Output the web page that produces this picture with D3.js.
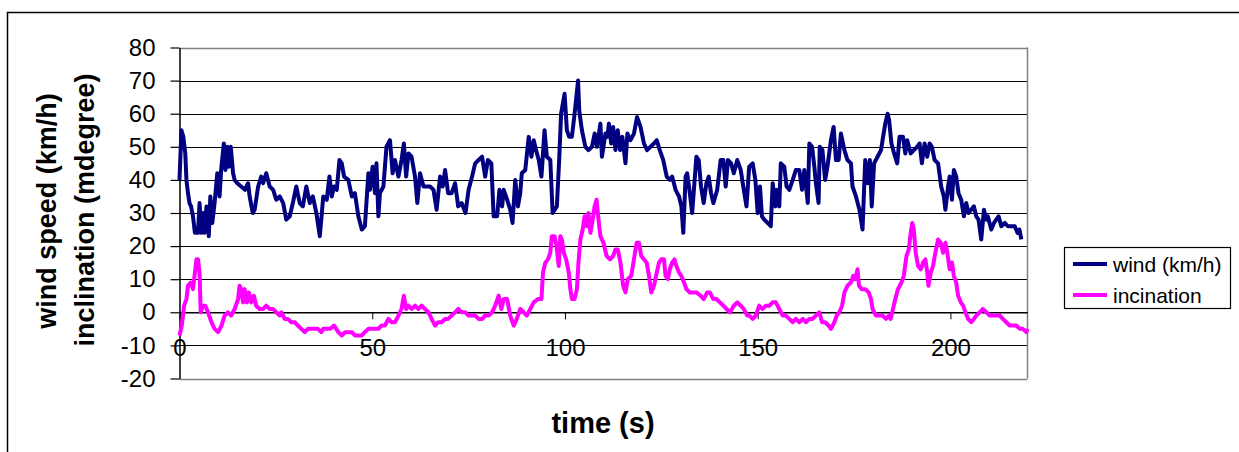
<!DOCTYPE html>
<html><head><meta charset="utf-8">
<script src="https://cdn.jsdelivr.net/npm/d3@7"></script>
<style>
body{margin:0;background:#fff}
svg{display:block}
text{font-family:Arial,"Liberation Sans",sans-serif;fill:#000}
</style>
</head><body>
<svg id="chart" width="1239" height="452"></svg>
<script>
// ---- data ----
const windTime = [0,0.5,1,1.5,1.8,2.2,2.6,3,3.5,4,4.8,5.2,5.7,6.1,6.5,7,7.6,8,8.5,9.1,9.8,10.4,10.8,11.5,11.9,12.4,12.8,13.3,13.9,14.3,15,16,17,17.8,18.2,19,19.5,20.4,21.2,21.7,22.5,23.4,24.3,25.1,26,26.9,27.7,28.6,29.4,30.3,31.2,32,32.9,33.8,34.6,35.5,36.4,37.3,38.2,38.9,39.5,40.1,40.8,41.5,42.1,42.7,43.8,44.7,45.5,46.4,47.3,48.1,49,49.4,50.1,50.7,51.1,51.6,52,52.9,53.7,54.6,55.3,55.9,56.8,57.6,58.2,58.8,59.4,60.2,61.1,61.7,62.4,63.3,64.1,65,65.9,66.7,67.6,68.3,68.9,69.7,70.6,71.5,72.3,73.2,74.2,75,75.9,76.7,77.6,78.5,79.3,80,80.9,81.5,82.4,83,83.7,84.1,85,85.8,86.4,87.1,87.8,88.4,88.8,89.7,90.6,91.3,91.9,92.5,93.2,93.9,94.7,95.3,96.2,96.8,97.9,98.5,99,99.9,100.5,101.1,101.8,102.5,103.4,103.7,104.4,105.3,106.1,107,107.7,108.3,109.2,109.6,110.5,111,111.4,112,112.5,113.1,113.7,114.3,114.9,115.7,116.2,117,117.9,118.7,119.6,120.5,121.3,122.2,123.1,123.8,124.6,125.5,126.4,127.2,127.8,128.7,129.6,130.2,130.7,131.3,131.7,132.4,133,134.1,134.7,135.3,136,136.7,137.3,137.9,138.5,139.5,140.4,141.1,141.7,142.3,143.1,143.8,144.7,145.6,146.4,147.1,147.8,148.7,149.4,150,150.6,151.1,151.7,152.6,153.4,153.9,154.6,154.9,155.6,156,156.9,157.5,158.2,159.1,159.9,160.8,161.5,162.1,163,163.4,164.1,164.7,165.1,165.8,166.1,166.8,167.5,168.1,169,169.7,170.3,171,171.6,172.5,173.3,174.2,174.6,175.5,176.4,177.2,177.9,178.5,179.1,179.6,180.2,181.1,182,182.4,183.1,183.7,184.1,184.7,185.4,186.2,186.8,187.7,188.3,188.8,189.7,190.5,191.4,192,192.6,193.3,194,194.6,195.2,195.9,196.8,197.6,198.3,198.7,199.4,199.8,200.4,200.9,201.5,202.1,202.8,203.5,204.1,204.7,205.4,206.1,206.7,207.3,208,208.7,209.3,209.7,210.6,211.3,211.9,212.5,213.2,214.1,214.9,215.8,216.7,217.4,217.9,218.4];
const windSpeed = [40,55,53,48,40,36,33,32,29,24,24,33,24,30,24,32,23,35,27,33,42,35,43,51,43,50,44,50,42,40,39,38,37,39,35,30,31,38,41,39,42,38,37,34,35,33,28,29,33,38,33,32,38,33,35,30,23,35,34,41,35,38,37,46,45,41,40,35,36,29,25,26,42,37,44,36,45,29,36,38,50,52,42,46,41,46,51,41,48,47,41,33,42,38,38,38,37,31,41,38,43,36,36,39,32,33,30,37,41,45,46,47,41,46,45,29,29,37,32,37,34,31,27,40,32,36,42,43,53,47,52,49,46,41,55,47,46,30,32,46,60,66,55,53,53,60,70,61,55,50,49,50,54,50,57,47,54,53,57,51,56,49,55,49,53,45,54,52,54,59,56,51,49,50,51,52,49,46,41,40,41,37,35,32,24,41,42,36,30,47,46,38,33,39,41,36,33,37,46,46,38,46,45,42,46,43,37,32,44,45,40,30,38,29,28,27,26,39,32,37,32,45,44,38,37,40,43,43,37,43,33,51,50,44,39,33,50,49,40,44,52,56,46,46,54,49,46,45,38,35,31,25,46,39,46,32,45,47,49,52,57,60,58,51,48,45,53,53,48,52,48,49,50,51,45,51,47,51,50,46,45,38,35,31,38,41,34,43,41,36,34,29,33,30,31,32,29,28,22,31,28,29,25,27,28,29,26,27,26,26,26,24,25,22];
const inclTime = [0,0.6,1.2,1.8,2.2,2.9,3.5,3.9,4.4,4.8,5.2,5.5,6.1,6.7,7.4,8.3,9.1,10,10.9,11.7,12.6,13.4,14.3,15.2,15.6,16,16.5,16.9,17.5,18,18.6,19.3,19.9,20.8,21.7,22.5,23.4,24.3,25.1,26,26.4,27.3,28.1,29,29.9,30.7,31.6,32.5,33.3,34.2,35.1,35.9,36.8,37.3,38.2,39.1,40.1,41.2,42.1,43,43.8,44.7,45.5,46.4,47.3,48.1,49,49.9,50.7,51.6,52.4,53.3,54.2,55,55.9,56.8,57.6,58.2,58.8,59.4,60.2,61.1,62,62.8,63.7,64.6,65.4,66.3,67.1,68,68.9,69.7,70.6,71.5,72.3,73.2,74.1,75,75.9,76.7,77.6,78.5,79.3,80.2,81.1,81.9,82.8,83.5,84.1,85,85.8,86.7,87.5,88.4,89.3,90.1,91,91.9,93,93.9,94.3,94.9,95.6,96.2,96.6,97.3,97.8,98.4,98.8,99.2,99.7,100.3,101,101.4,101.8,102.5,103.1,103.5,104,104.6,105.1,105.7,106.1,106.6,107.2,107.7,108.2,108.7,109.2,110,110.8,111.7,112.5,113.1,113.7,114.4,115.1,115.7,116.3,117.2,117.9,118.6,119.2,119.8,120.5,121.2,121.8,122.4,123.1,123.8,124.4,125,125.7,126.1,126.7,127.2,127.8,128.4,128.9,129.6,130.2,130.9,131.5,132.4,133.3,134.1,135.2,136,136.9,137.6,138.5,139.3,140.2,141.1,141.9,142.8,143.8,144.7,145.6,146.4,147.3,147.8,148.7,149.5,150.4,151.3,152.1,153,153.9,154.7,155.6,156.5,157.3,158.2,159.1,159.9,160.8,161.7,162.5,163.4,164.2,165.1,166,166.7,167.5,168.4,169,169.9,170.5,171.2,171.9,172.5,173.3,174.2,174.8,175.3,175.9,176.3,177,177.9,178.8,179.4,179.8,180.7,181.5,182.4,183.3,184.1,184.5,185.1,185.7,186.4,187.3,187.9,188.6,189.2,189.7,190.1,190.5,191,191.6,192.3,192.9,193.5,194,194.3,194.9,195.5,196.1,196.8,197.5,198.1,198.7,199.2,199.8,200.4,200.9,201.5,202,202.7,203.3,203.9,204.6,205.4,206.1,206.7,207.6,208.4,209.3,210.2,211,211.9,212.8,213.6,214.5,215.4,216.2,217.1,218,218.8,219.7,220];
const inclination = [-7,-4,2,4,8,9,7,11,16,16,12,0,2,2,0,-3,-5,-6,-4,-1,0,-1,1,4,8,7,3,7,3,6,3,5,2,1,1,2,1,1,0,-1,0,-2,-2,-3,-3,-4,-5,-6,-5,-5,-5,-5,-6,-5,-5,-5,-4,-6,-7,-6,-6,-6,-7,-7,-7,-6,-5,-5,-5,-5,-4,-4,-2,-3,-3,-1,1,5,1,2,1,2,1,2,1,0,-2,-4,-3,-3,-2,-2,-1,0,1,0,0,-1,-1,-1,-2,-2,-1,-1,0,2,5,1,4,4,-1,-4,-2,1,0,-1,1,3,4,4,12,15,16,18,23,23,20,14,23,22,18,16,12,7,4,4,7,15,22,25,29,26,30,24,28,32,34,28,23,21,17,16,17,19,19,15,8,6,10,11,16,21,21,17,16,15,11,6,8,12,15,16,16,11,10,13,15,16,14,12,11,9,7,6,6,6,5,4,6,6,4,4,3,2,1,0,2,3,2,1,-1,-1,-2,-1,2,1,2,2,3,3,1,-1,-1,-2,-3,-2,-3,-2,-3,-2,-2,-1,0,-3,-3,-4,-5,-3,-1,0,2,6,8,9,11,10,13,8,7,7,6,4,1,-1,-1,-1,-2,-1,-2,1,4,7,9,11,17,19,24,27,25,18,14,13,15,16,12,8,12,14,18,22,21,18,21,18,13,15,11,9,5,3,2,0,-2,-3,-2,-1,0,1,0,-1,-1,-1,-1,-2,-3,-4,-4,-4,-5,-5,-6,-5];
const seriesNames = ["wind (km/h)", "incination"];
const seriesColors = ["#000080", "#FF00FF"];
const yTicks = [-20,-10,0,10,20,30,40,50,60,70,80];
const xTicks = [0,50,100,150,200];
const xTitle = "time (s)";
const yTitles = ["wind speed (km/h)", "inclination (mdegree)"];

// ---- drawing ----
const svg = d3.select("#chart");
const x = d3.scaleLinear().domain([0,220]).range([179.5,1027.5]);
const y = d3.scaleLinear().domain([-20,80]).range([378.5,47.5]);
const fmt = d => String(d);

// outer chart border
svg.append("rect").attr("x",7.5).attr("y",12.5).attr("width",1260).attr("height",470)
  .attr("fill","none").attr("stroke","#000").attr("stroke-width",1.5);

// gridlines
svg.append("g").selectAll("line").data(yTicks).join("line")
  .attr("x1",x(0)).attr("x2",x(220))
  .attr("y1",d=>Math.round(y(d))+0.5).attr("y2",d=>Math.round(y(d))+0.5)
  .attr("stroke",d=>(d===80||d===-20)?"#808080":"#000").attr("stroke-width",d=>(d===80||d===-20)?1.5:1.2);
// right border of plot area
svg.append("line").attr("x1",x(220)).attr("x2",x(220)).attr("y1",y(80)).attr("y2",y(-20))
  .attr("stroke","#808080").attr("stroke-width",1.5);

// y axis
const yAxis = svg.append("g").attr("transform",`translate(${x(0)},0)`)
  .call(d3.axisLeft(y).tickValues(yTicks).tickFormat(fmt).tickSize(9).tickSizeOuter(0).tickPadding(15));
yAxis.select(".domain").attr("stroke","#000").attr("stroke-width",1.5);
yAxis.selectAll(".tick line").attr("stroke","#000").attr("stroke-width",1.2);
yAxis.selectAll("text").attr("font-size",24).attr("font-family","Arial, 'Liberation Sans', sans-serif").attr("fill","#000");

// x axis at y = 0
const xAxis = svg.append("g").attr("transform",`translate(0,${y(0)})`)
  .call(d3.axisBottom(x).tickValues(xTicks).tickFormat(fmt).tickSize(7).tickSizeOuter(0).tickPadding(20));
xAxis.select(".domain").attr("stroke","#000").attr("stroke-width",1.2);
xAxis.selectAll(".tick line").attr("stroke","#000");
xAxis.selectAll("text").attr("font-size",24).attr("font-family","Arial, 'Liberation Sans', sans-serif").attr("fill","#000");

// series
const windData = windTime.map((t,i)=>({t, v: windSpeed[i]}));
const inclData = inclTime.map((t,i)=>({t, v: inclination[i]}));
const line = d3.line().x(d=>x(d.t)).y(d=>y(d.v));
svg.append("path").datum(windData).attr("d",line).attr("fill","none")
  .attr("stroke",seriesColors[0]).attr("stroke-width",4).attr("stroke-linejoin","round");
svg.append("path").datum(inclData).attr("d",line).attr("fill","none")
  .attr("stroke",seriesColors[1]).attr("stroke-width",4).attr("stroke-linejoin","round");

// axis titles
svg.append("text").attr("x",603).attr("y",433).attr("text-anchor","middle")
  .attr("font-size",29).attr("font-weight","bold").text(xTitle);
svg.append("text").attr("transform","translate(56,211) rotate(-90)").attr("text-anchor","middle")
  .attr("font-size",27).attr("font-weight","bold").text(yTitles[0]);
svg.append("text").attr("transform","translate(94,210) rotate(-90)").attr("text-anchor","middle")
  .attr("font-size",27).attr("font-weight","bold").text(yTitles[1]);

// legend
const lg = svg.append("g");
lg.append("rect").attr("x",1064.5).attr("y",247.5).attr("width",166).attr("height",61)
  .attr("fill","#fff").attr("stroke","#000").attr("stroke-width",1.2);
seriesNames.forEach((name,i)=>{
  const cy = 264 + i*31;
  lg.append("line").attr("x1",1073).attr("x2",1107).attr("y1",cy).attr("y2",cy)
    .attr("stroke",seriesColors[i]).attr("stroke-width",4);
  lg.append("text").attr("x",1113).attr("y",cy+8).attr("font-size",21).text(name);
});
</script>
</body></html>
